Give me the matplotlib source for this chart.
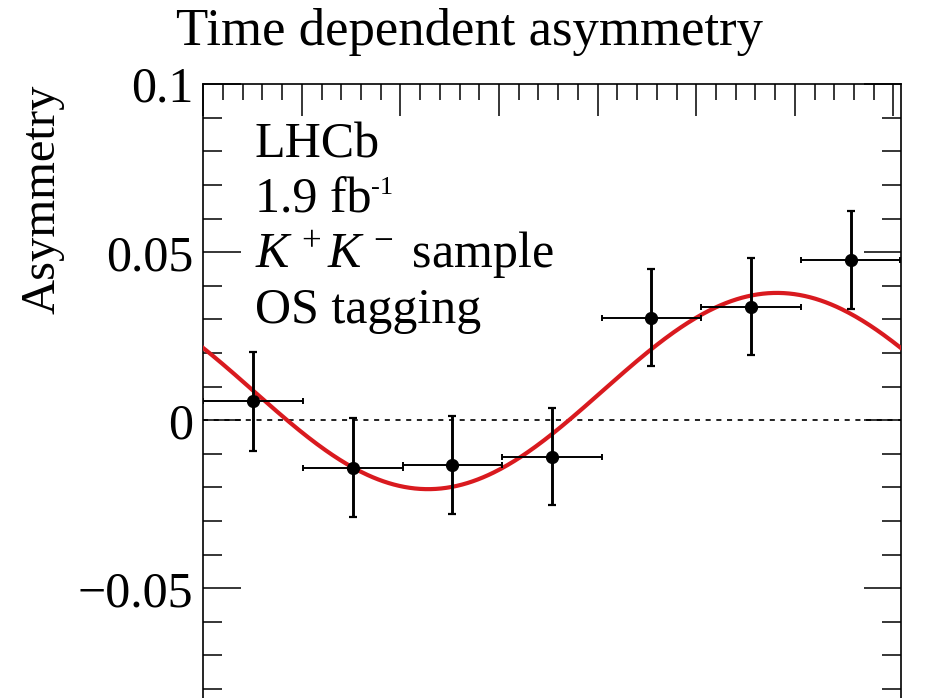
import numpy as np
import matplotlib
matplotlib.use("Agg")
import matplotlib.pyplot as plt
from matplotlib.ticker import MultipleLocator

plt.rcParams['font.family'] = ['Liberation Serif', 'DejaVu Serif']
plt.rcParams['mathtext.fontset'] = 'custom'
plt.rcParams['mathtext.rm'] = 'Liberation Serif'
plt.rcParams['mathtext.it'] = 'Liberation Serif:italic'

# folded decay time (ps), one oscillation period 2*pi/dm_s split in 7 bins
dm_s = 17.757
t_period = 2 * np.pi / dm_s
bin_centers = [0.0253, 0.0758, 0.1263, 0.1768, 0.2273, 0.2778, 0.3283]
bin_halfwidth = [0.02525] * 7
asym = [0.0057, -0.0141, -0.0133, -0.0108, 0.0305, 0.0338, 0.0477]
asym_err = [0.0147, 0.0148, 0.0146, 0.0145, 0.0144, 0.0144, 0.0145]

# fitted oscillation: offset + amp * cos(dm_s * (t - t_peak))
fit_offset = 0.0087
fit_amp = 0.0292
fit_tpeak = 0.2909

fig = plt.figure(figsize=(9.39, 6.98), dpi=100)
ax = fig.add_axes([0.2165, -0.0835, 0.743, 0.9628])

t = np.linspace(0, t_period, 400)
ax.plot(t, fit_offset + fit_amp * np.cos(dm_s * (t - fit_tpeak)),
        color='#d91a1f', lw=3.0, zorder=3)

ax.axhline(0, color='#222222', lw=1.4, ls=(0, (2.6, 2.9)), zorder=1)

ax.errorbar(bin_centers, asym, xerr=bin_halfwidth, fmt='none',
            ecolor='black', elinewidth=1.4, capsize=2.5, capthick=1.4, zorder=4)
ax.errorbar(bin_centers, asym, yerr=asym_err, fmt='o', color='black',
            ms=8.5, elinewidth=2.1, capsize=3, capthick=1.6, zorder=5)

ax.set_xlim(0, t_period)
ax.set_ylim(-0.1, 0.1)

ax.xaxis.set_major_locator(MultipleLocator(0.05))
ax.xaxis.set_minor_locator(MultipleLocator(0.01))
ax.set_yticks([-0.1, -0.05, 0, 0.05, 0.1])
ax.set_yticklabels(['', '\u22120.05', '0', '0.05', '0.1'])
ax.yaxis.set_minor_locator(MultipleLocator(0.01))

ax.tick_params(axis='both', which='both', direction='in', width=1.1,
               top=True, right=True, labelsize=36, pad=7)
ax.tick_params(axis='x', labelbottom=False)
ax.tick_params(axis='y', which='major', length=27)
ax.tick_params(axis='y', which='minor', length=13.5)
ax.tick_params(axis='x', which='major', length=23)
ax.tick_params(axis='x', which='minor', length=11.5)
for s in ax.spines.values():
    s.set_linewidth(1.2)

fig.text(0.5, 0.935, 'Time dependent asymmetry', ha='center', va='baseline',
         fontsize=38)
fig.text(0.045, 1 - 84 / 698, 'Asymmetry', rotation=90, ha='center', va='top',
         fontsize=35)

labels = ['LHCb', '1.9 fb', '$K^{\\,+}K^{\\,-}$ sample', 'OS tagging']
texts = []
for i, txt in enumerate(labels):
    texts.append(fig.text(255 / 939, 1 - (157 + 55.5 * i) / 698, txt,
                          ha='left', va='baseline', fontsize=36))
# luminosity unit exponent
ax.annotate('-1', xy=(1.0, 0.52), xycoords=texts[1], ha='left',
            va='bottom', fontsize=19, annotation_clip=False)

fig.savefig('out.png', dpi=100)
